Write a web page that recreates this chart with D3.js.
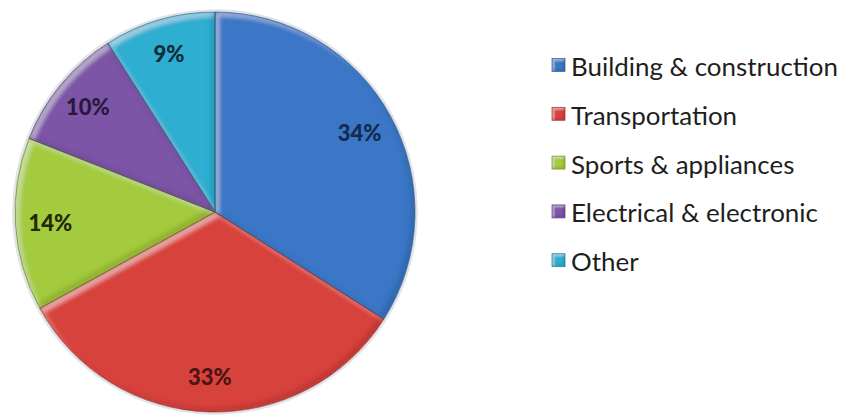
<!DOCTYPE html>
<html>
<head>
<meta charset="utf-8">
<script src="https://cdn.jsdelivr.net/npm/d3@7"></script>
<style>
  html, body { margin: 0; padding: 0; background: #ffffff; }
  svg { display: block; }
</style>
</head>
<body>
<svg id="chart" width="845" height="417"></svg>
<script>
// Plastics demand by end-use sector (share of total, %)
const sectors = ["Building & construction", "Transportation", "Sports & appliances", "Electrical & electronic", "Other"];
const shares  = [34, 33, 14, 10, 9];
const fills   = ["#3a77c6", "#d8423c", "#a4ca3c", "#7b54a6", "#2daed0"];
const inks    = ["#132b4d", "#4a1512", "#1f2a08", "#2a1840", "#0f2c38"];

const svg = d3.select("#chart");
const cx = 215, cy = 212, R = 200;

// Bevel: light band on the upper-left edges, shade on the lower-right edges
const defs = svg.append("defs");
function bevelFilter(id, d, blur, hiOp, shOp) {
  const f = defs.append("filter").attr("id", id)
    .attr("x", "-10%").attr("y", "-10%").attr("width", "120%").attr("height", "120%");
  f.append("feOffset").attr("in", "SourceAlpha").attr("dx", d).attr("dy", d).attr("result", "offA");
  f.append("feComposite").attr("in", "SourceAlpha").attr("in2", "offA").attr("operator", "out").attr("result", "hiBand");
  f.append("feGaussianBlur").attr("in", "hiBand").attr("stdDeviation", blur).attr("result", "hiBlur");
  f.append("feFlood").attr("flood-color", "#ffffff").attr("flood-opacity", hiOp).attr("result", "hiCol");
  f.append("feComposite").attr("in", "hiCol").attr("in2", "hiBlur").attr("operator", "in").attr("result", "hiPaint");
  f.append("feOffset").attr("in", "SourceAlpha").attr("dx", -d).attr("dy", -d).attr("result", "offB");
  f.append("feComposite").attr("in", "SourceAlpha").attr("in2", "offB").attr("operator", "out").attr("result", "shBand");
  f.append("feGaussianBlur").attr("in", "shBand").attr("stdDeviation", blur).attr("result", "shBlur");
  f.append("feFlood").attr("flood-color", "#000000").attr("flood-opacity", shOp).attr("result", "shCol");
  f.append("feComposite").attr("in", "shCol").attr("in2", "shBlur").attr("operator", "in").attr("result", "shPaint");
  const m = f.append("feMerge").attr("result", "merged");
  m.append("feMergeNode").attr("in", "SourceGraphic");
  m.append("feMergeNode").attr("in", "hiPaint");
  m.append("feMergeNode").attr("in", "shPaint");
  f.append("feComposite").attr("in", "merged").attr("in2", "SourceAlpha").attr("operator", "in");
}
bevelFilter("bevel", 4, 2.2, 0.38, 0.28);
bevelFilter("bevelSmall", 2, 0.8, 0.45, 0.3);

const pie = d3.pie().sort(null).value(d => d)(shares);
const arc = d3.arc().innerRadius(0).outerRadius(R);
const labelArc = d3.arc().innerRadius(165).outerRadius(165);

const g = svg.append("g").attr("transform", `translate(${cx},${cy})`);

// faint outer halo around the disc
g.append("circle").attr("r", R + 1.5).attr("fill", "none")
  .attr("stroke", "#d3d9df").attr("stroke-width", 2.5).attr("opacity", 0.7);

g.selectAll("path.slice").data(pie).join("path")
  .attr("class", "slice")
  .attr("d", arc)
  .attr("fill", (d, i) => fills[i])
  .attr("filter", "url(#bevel)");

g.selectAll("path.edge").data(pie).join("path")
  .attr("class", "edge")
  .attr("d", arc)
  .attr("fill", "none")
  .attr("stroke", (d, i) => d3.color(fills[i]).darker(1.3))
  .attr("stroke-opacity", 0.8)
  .attr("stroke-width", 0.9);

g.selectAll("text.pct").data(pie).join("text")
  .attr("class", "pct")
  .attr("transform", d => `translate(${labelArc.centroid(d)})`)
  .attr("text-anchor", "middle")
  .attr("dominant-baseline", "central")
  .attr("font-family", "Lato, 'Open Sans', sans-serif")
  .attr("font-weight", 900)
  .attr("font-size", 22)
  .attr("fill", (d, i) => inks[i])
  .text(d => d.data + "%");

// Legend
const lx = 552, ly0 = 65, step = 48.8, box = 13;
const legend = svg.append("g");
const rows = legend.selectAll("g").data(sectors).join("g")
  .attr("transform", (d, i) => `translate(${lx},${ly0 + i * step})`);
rows.append("rect")
  .attr("x", 0).attr("y", -box / 2).attr("width", box).attr("height", box)
  .attr("fill", (d, i) => fills[i])
  .attr("filter", "url(#bevelSmall)");
rows.append("rect")
  .attr("x", 0).attr("y", -box / 2).attr("width", box).attr("height", box)
  .attr("fill", "none")
  .attr("stroke", (d, i) => d3.color(fills[i]).darker(1))
  .attr("stroke-width", 0.7);
const txt = rows.append("text")
  .attr("x", 19).attr("y", 1)
  .attr("dominant-baseline", "central")
  .attr("font-family", "Lato, 'Open Sans', sans-serif")
  .attr("font-size", 21)
  .attr("fill", "#1e1e1e")
  .text(d => d);

// fit the longest entry to its run of 267px
const w0 = txt.nodes()[0].getComputedTextLength();
txt.attr("font-size", 21 * 267 / w0);
</script>
</body>
</html>
